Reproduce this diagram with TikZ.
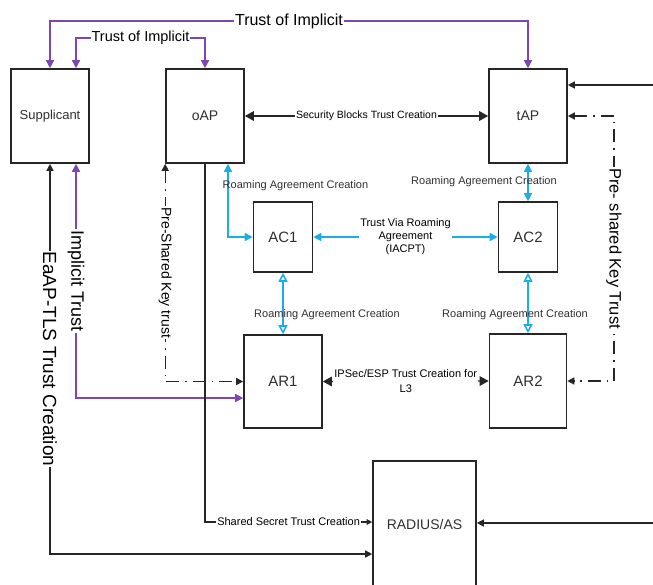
\documentclass[tikz,border=0pt]{standalone}
\usepackage{fontspec}
\setmainfont{Liberation Sans}
\usetikzlibrary{arrows.meta}
\definecolor{purc}{HTML}{7D45B5}
\definecolor{bluc}{HTML}{1AAEE8}
\definecolor{txtc}{HTML}{303030}
\newcommand{\myfs}[1]{\fontsize{#1}{#1}\selectfont}
\begin{document}
\begin{tikzpicture}[x=1pt,y=-1pt,
  box/.style={draw=black!85, line width=1.6pt, inner sep=0pt, text=txtc},
  conn/.style={line width=1.4pt},
  blk/.style={conn, draw=black!85},
  pur/.style={conn, draw=purc},
  blu/.style={conn, draw=bluc, line width=1.6pt},
  dd/.style={blk, dash pattern=on 13pt off 6pt on 1.5pt off 6pt},
  onl/.style={fill=white, inner sep=1pt, text=black},
  flab/.style={inner sep=1pt, text=txtc},
  bt/.tip={Triangle[length=8pt,width=8pt]},
  mt/.tip={Triangle[length=7pt,width=7pt]},
  st/.tip={Triangle[length=5.5pt,width=5.5pt]},
  lt/.tip={Triangle[length=9pt,width=9.5pt]},
  ot/.tip={Triangle[open,length=9pt,width=9pt]}
]
\useasboundingbox (0,0) rectangle (653,584);

% boxes
\node[box, minimum width=78pt, minimum height=94pt, font=\myfs{13}] (sup) at (50,116) {Supplicant};
\node[box, minimum width=78pt, minimum height=94pt, font=\myfs{14}] (oap) at (205,116) {oAP};
\node[box, minimum width=78pt, minimum height=94pt, font=\myfs{14}] (tap) at (528,116) {tAP};
\node[box, minimum width=59pt, minimum height=70pt, font=\myfs{15}] (ac1) at (283,237) {AC1};
\node[box, minimum width=59pt, minimum height=70pt, font=\myfs{15}] (ac2) at (528,237) {AC2};
\node[box, minimum width=78pt, minimum height=93pt, font=\myfs{15}] (ar1) at (283,381.5) {AR1};
\node[box, minimum width=77pt, minimum height=94pt, font=\myfs{15}] (ar2) at (528,381) {AR2};
\node[box, minimum width=103pt, minimum height=126pt, font=\myfs{14}] (rad) at (424.5,524) {RADIUS/AS};

% helper coordinates
\coordinate (ytop) at (0,21);
\coordinate (yin) at (0,38);
\coordinate (xr) at (614,0);
\coordinate (yimp) at (0,398);
\coordinate (yea) at (0,554);
\coordinate (ysh) at (0,522);
\coordinate (r1) at (653,85);
\coordinate (r2) at (653,523);

% purple trust of implicit (outer)
\draw[pur, bt-bt] (sup.north) -- (sup.north |- ytop)
  -- node[onl, font=\myfs{16}] (l1) {Trust of Implicit} (tap.north |- ytop) -- (tap.north);
% purple trust of implicit (inner)
\draw[pur, bt-bt] ([xshift=26pt]sup.north) -- ([xshift=26pt]sup.north |- yin)
  -- node[onl, font=\myfs{14.5}] (l2) {Trust of Implicit} (oap.north |- yin) -- (oap.north);

% security blocks
\draw[blk, lt-lt] (oap.east) -- node[onl, font=\myfs{10.5}] (l3) {Security Blocks Trust Creation} (tap.west);
% right line into tAP
\draw[blk, -mt] (r1) -- (r1 -| tap.east);
% pre-shared key trust right
\draw[dd, mt-mt] (tap.east) -- (tap.east -| xr)
  -- node[onl, rotate=-90, font=\myfs{16.5}] (l4) {Pre- shared Key Trust} (ar2.east -| xr) -- (ar2.east);

% blue roaming
\draw[blu, bt-bt] ([xshift=23pt]oap.south) |- (ac1.west);
\node[flab, font=\myfs{11}] (l5) at (295.5,186) {Roaming Agreement Creation};
\draw[blu, bt-bt] (tap.south) -- (ac2.north);
\node[flab, font=\myfs{11}] (l6) at (484,182) {Roaming Agreement Creation};
\draw[blu, bt-bt] (ac1.east) -- node[onl, align=center, font=\fontsize{11}{13}\selectfont] (l7) {Trust Via Roaming\\Agreement\\(IACPT)} (ac2.west);
\draw[blu, ot-ot] (ac1.south) -- (ar1.north);
\node[flab, font=\myfs{11}] (l8) at (327,315) {Roaming Agreement Creation};
\draw[blu, ot-ot] (ac2.south) -- (ar2.north);
\node[flab, font=\myfs{11}] (l9) at (515,315) {Roaming Agreement Creation};

% AR1 - AR2
\draw[blk, lt-lt] (ar1.east) -- node[onl, align=center, font=\fontsize{11}{15}\selectfont] (l10) {IPSec/ESP Trust Creation for\\L3} (ar2.west);

% pre-shared key trust left
\draw[dd, mt-mt] (oap.south west) -- node[onl, rotate=-90, font=\myfs{14}] (l11) {Pre-Shared Key trust} (oap.south west |- ar1.west) -- (ar1.west);

% implicit trust
\draw[pur, bt-bt] ([xshift=26pt]sup.south) -- node[onl, rotate=-90, font=\myfs{18}] (l12) {Implicit Trust} ([xshift=26pt]sup.south |- yimp) -- (ar1.west |- yimp);

% EaAP-TLS
\draw[blk, mt-mt] (sup.south) -- node[onl, rotate=-90, font=\myfs{19}] (l13) {EaAP-TLS Trust Creation} (sup.south |- yea) -- (rad.west |- yea);

% shared secret
\draw[blk, -st] (oap.south) |- node[onl, pos=0.75, font=\myfs{11}] (l14) {Shared Secret Trust Creation} (rad.west |- ysh);
% right line into RADIUS
\draw[blk, -mt] (r2) -- (r2 -| rad.east);
\end{tikzpicture}
\end{document}
